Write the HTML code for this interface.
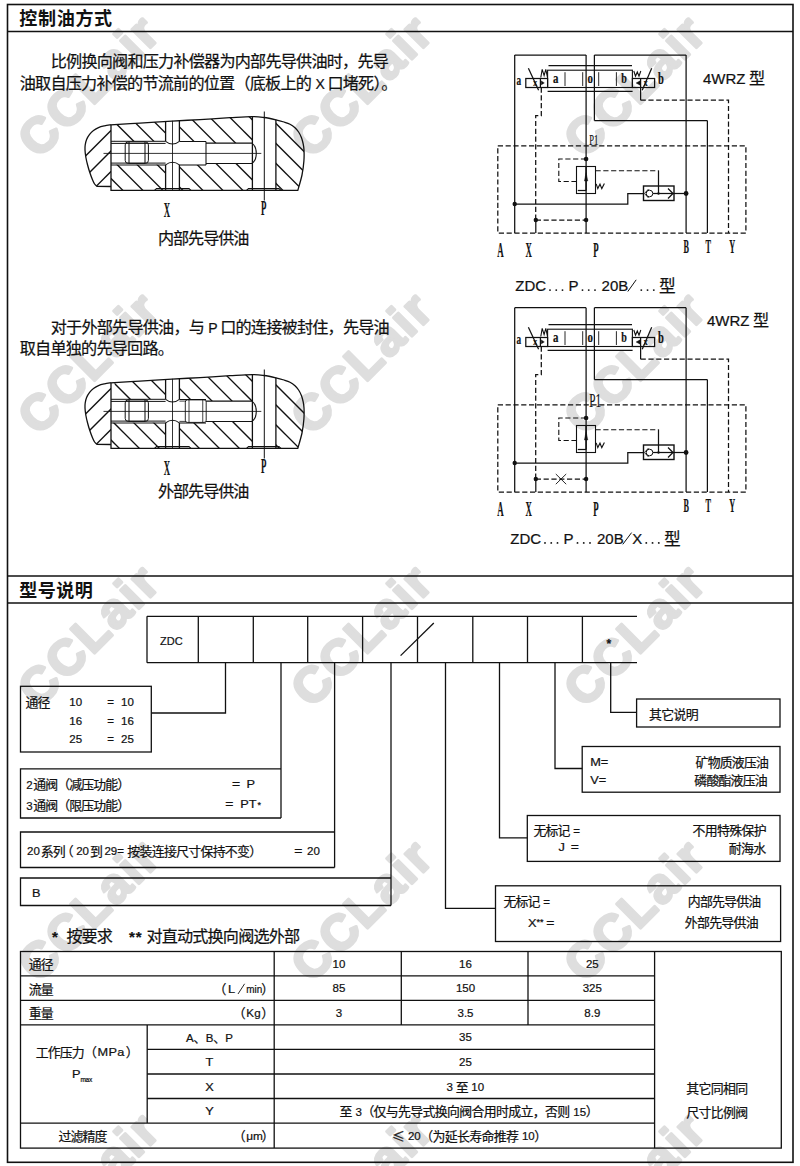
<!DOCTYPE html>
<html lang="zh"><head><meta charset="utf-8"><title>ZDC</title>
<style>
html,body{margin:0;padding:0;background:#fff;}
body{width:800px;height:1166px;overflow:hidden;font-family:"Liberation Sans",sans-serif;}
svg{display:block;}
text{stroke:#111;stroke-width:0.22px;}
.cj{font-family:"Liberation Sans","Noto Sans CJK SC",sans-serif;fill:#111;}
.cjb{font-family:"Liberation Sans","Noto Sans CJK SC",sans-serif;fill:#111;font-weight:bold;stroke:none;}
</style></head><body>
<svg width="800" height="1166" viewBox="0 0 800 1166">
<text transform="translate(88.5 85) rotate(-45)" text-anchor="middle" y="17.5" font-size="49.5" font-weight="bold" letter-spacing="2.4" font-family="Liberation Sans, sans-serif" fill="#dedede" style="stroke:#dedede;stroke-width:2.8px;stroke-linejoin:round">CCLair</text><text transform="translate(361.5 85) rotate(-45)" text-anchor="middle" y="17.5" font-size="49.5" font-weight="bold" letter-spacing="2.4" font-family="Liberation Sans, sans-serif" fill="#dedede" style="stroke:#dedede;stroke-width:2.8px;stroke-linejoin:round">CCLair</text><text transform="translate(634.5 85) rotate(-45)" text-anchor="middle" y="17.5" font-size="49.5" font-weight="bold" letter-spacing="2.4" font-family="Liberation Sans, sans-serif" fill="#dedede" style="stroke:#dedede;stroke-width:2.8px;stroke-linejoin:round">CCLair</text><text transform="translate(88.5 362) rotate(-45)" text-anchor="middle" y="17.5" font-size="49.5" font-weight="bold" letter-spacing="2.4" font-family="Liberation Sans, sans-serif" fill="#dedede" style="stroke:#dedede;stroke-width:2.8px;stroke-linejoin:round">CCLair</text><text transform="translate(361.5 362) rotate(-45)" text-anchor="middle" y="17.5" font-size="49.5" font-weight="bold" letter-spacing="2.4" font-family="Liberation Sans, sans-serif" fill="#dedede" style="stroke:#dedede;stroke-width:2.8px;stroke-linejoin:round">CCLair</text><text transform="translate(634.5 362) rotate(-45)" text-anchor="middle" y="17.5" font-size="49.5" font-weight="bold" letter-spacing="2.4" font-family="Liberation Sans, sans-serif" fill="#dedede" style="stroke:#dedede;stroke-width:2.8px;stroke-linejoin:round">CCLair</text><text transform="translate(88.5 634.5) rotate(-45)" text-anchor="middle" y="17.5" font-size="49.5" font-weight="bold" letter-spacing="2.4" font-family="Liberation Sans, sans-serif" fill="#dedede" style="stroke:#dedede;stroke-width:2.8px;stroke-linejoin:round">CCLair</text><text transform="translate(361.5 634.5) rotate(-45)" text-anchor="middle" y="17.5" font-size="49.5" font-weight="bold" letter-spacing="2.4" font-family="Liberation Sans, sans-serif" fill="#dedede" style="stroke:#dedede;stroke-width:2.8px;stroke-linejoin:round">CCLair</text><text transform="translate(634.5 634.5) rotate(-45)" text-anchor="middle" y="17.5" font-size="49.5" font-weight="bold" letter-spacing="2.4" font-family="Liberation Sans, sans-serif" fill="#dedede" style="stroke:#dedede;stroke-width:2.8px;stroke-linejoin:round">CCLair</text><text transform="translate(88.5 909.5) rotate(-45)" text-anchor="middle" y="17.5" font-size="49.5" font-weight="bold" letter-spacing="2.4" font-family="Liberation Sans, sans-serif" fill="#dedede" style="stroke:#dedede;stroke-width:2.8px;stroke-linejoin:round">CCLair</text><text transform="translate(361.5 909.5) rotate(-45)" text-anchor="middle" y="17.5" font-size="49.5" font-weight="bold" letter-spacing="2.4" font-family="Liberation Sans, sans-serif" fill="#dedede" style="stroke:#dedede;stroke-width:2.8px;stroke-linejoin:round">CCLair</text><text transform="translate(634.5 909.5) rotate(-45)" text-anchor="middle" y="17.5" font-size="49.5" font-weight="bold" letter-spacing="2.4" font-family="Liberation Sans, sans-serif" fill="#dedede" style="stroke:#dedede;stroke-width:2.8px;stroke-linejoin:round">CCLair</text><text transform="translate(88.5 1182.5) rotate(-45)" text-anchor="middle" y="17.5" font-size="49.5" font-weight="bold" letter-spacing="2.4" font-family="Liberation Sans, sans-serif" fill="#dedede" style="stroke:#dedede;stroke-width:2.8px;stroke-linejoin:round">CCLair</text><text transform="translate(361.5 1182.5) rotate(-45)" text-anchor="middle" y="17.5" font-size="49.5" font-weight="bold" letter-spacing="2.4" font-family="Liberation Sans, sans-serif" fill="#dedede" style="stroke:#dedede;stroke-width:2.8px;stroke-linejoin:round">CCLair</text><text transform="translate(634.5 1182.5) rotate(-45)" text-anchor="middle" y="17.5" font-size="49.5" font-weight="bold" letter-spacing="2.4" font-family="Liberation Sans, sans-serif" fill="#dedede" style="stroke:#dedede;stroke-width:2.8px;stroke-linejoin:round">CCLair</text><rect x="7.5" y="4.5" width="785.5" height="1157.8" fill="none" stroke="#111" stroke-width="1.6"/><line x1="7.5" y1="31.5" x2="793" y2="31.5" stroke="#111" stroke-width="1.6"/><line x1="7.5" y1="576" x2="793" y2="576" stroke="#111" stroke-width="1.6"/><line x1="7.5" y1="603" x2="793" y2="603" stroke="#111" stroke-width="1.6"/><text class="cjb" x="19.37" y="24.62" font-size="18.06" letter-spacing="0.64">控制油方式</text><text class="cjb" x="19.37" y="596.52" font-size="18.06" letter-spacing="0.44">型号说明</text><text class="cj" x="50.74" y="67.17" font-size="16.13" letter-spacing="-0.775">比例换向阀和压力补偿器为内部先导供油时，先导</text><text class="cj" x="19.74" y="88.97" font-size="16.13" letter-spacing="-0.775">油取自压力补偿的节流前的位置（底板上的</text><text class="cj" x="327.4" y="88.97" font-size="16.13" letter-spacing="-0.775">口堵死）</text><text class="cj" x="381.14" y="88.97" font-size="16.13">。</text><text x="311.95" y="88.6" font-size="14" font-family="Liberation Sans, sans-serif" letter-spacing="-0.4" fill="#111" xml:space="preserve"> X </text><text class="cj" x="50.74" y="332.88" font-size="16.13" letter-spacing="-0.775">对于外部先导供油，与</text><text class="cj" x="220.21" y="332.88" font-size="16.13" letter-spacing="-0.775">口的连接被封住，先导油</text><text x="204.8" y="332.5" font-size="14" font-family="Liberation Sans, sans-serif" letter-spacing="-0.4" fill="#111" xml:space="preserve"> P </text><text class="cj" x="19.74" y="354.38" font-size="16.13" letter-spacing="-0.775">取自单独的先导回路。</text><text class="cj" x="157.94" y="244.18" font-size="16.13" letter-spacing="-1.03">内部先导供油</text><text class="cj" x="157.94" y="496.68" font-size="16.13" letter-spacing="-1.03">外部先导供油</text><clipPath id="cb1"><path d="M111 190.4L111 124.8C115.83 124.52 129.83 123.72 140 123.1C150.17 122.48 162 121.68 172 121.1C182 120.52 190.33 120.17 200 119.6C209.67 119.03 221.33 118.2 230 117.7C238.67 117.2 246.33 116.63 252 116.6C257.67 116.57 260.02 116.97 264 117.5C267.98 118.03 272.57 119.05 275.9 119.8C279.23 120.55 281.65 121.27 284 122C286.35 122.73 288.17 123.23 290 124.2C291.83 125.17 293.57 126.5 295 127.8C296.43 129.1 297.53 130.38 298.6 132C299.67 133.62 300.65 135.58 301.4 137.5C302.15 139.42 302.67 141.42 303.1 143.5C303.53 145.58 303.87 147.08 304 150C304.13 152.92 304.23 156.83 303.9 161C303.57 165.17 303.02 170.1 302 175C300.98 179.9 298.5 187.83 297.8 190.4Z"/></clipPath><clipPath id="cr1"><rect x="114.5" y="100" width="51.1" height="41.3"/><rect x="179.4" y="100" width="26.6" height="41.5"/><rect x="206" y="100" width="46.4" height="43.1"/><rect x="111" y="164.8" width="54.6" height="26.2"/><rect x="179.4" y="165" width="26.6" height="26"/><rect x="206" y="163.5" width="46.4" height="27.5"/><rect x="275.9" y="100" width="44.1" height="91"/></clipPath><clipPath id="cc1"><path d="M111 124.8C109.92 124.98 106.58 125.43 104.5 125.9C102.42 126.37 100.33 126.82 98.5 127.6C96.67 128.38 94.98 129.47 93.5 130.6C92.02 131.73 90.75 132.92 89.6 134.4C88.45 135.88 87.33 137.73 86.6 139.5C85.87 141.27 85.47 143.25 85.2 145C84.93 146.75 84.9 148 85 150C85.1 152 85.37 154.5 85.8 157C86.23 159.5 86.93 162.42 87.6 165C88.27 167.58 88.97 170 89.8 172.5C90.63 175 91.8 178.08 92.6 180C93.4 181.92 93.87 182.95 94.6 184C95.33 185.05 96.6 185.92 97 186.3L111 186.5Z"/></clipPath><g clip-path="url(#cb1)"><g clip-path="url(#cr1)" stroke="#111" stroke-width="1.3"><line x1="17.5" y1="105" x2="107.5" y2="195"/><line x1="37.5" y1="105" x2="127.5" y2="195"/><line x1="57.5" y1="105" x2="147.5" y2="195"/><line x1="77.5" y1="105" x2="167.5" y2="195"/><line x1="97.5" y1="105" x2="187.5" y2="195"/><line x1="117.5" y1="105" x2="207.5" y2="195"/><line x1="137.5" y1="105" x2="227.5" y2="195"/><line x1="157.5" y1="105" x2="247.5" y2="195"/><line x1="177.5" y1="105" x2="267.5" y2="195"/><line x1="197.5" y1="105" x2="287.5" y2="195"/><line x1="217.5" y1="105" x2="307.5" y2="195"/><line x1="237.5" y1="105" x2="327.5" y2="195"/><line x1="257.5" y1="105" x2="347.5" y2="195"/><line x1="277.5" y1="105" x2="367.5" y2="195"/></g></g><g clip-path="url(#cc1)" stroke="#111" stroke-width="1.3"><line x1="126.5" y1="115" x2="46.5" y2="195"/><line x1="147" y1="115" x2="67" y2="195"/><line x1="167.5" y1="115" x2="87.5" y2="195"/></g><path d="M111 190.4L111 124.8C115.83 124.52 129.83 123.72 140 123.1C150.17 122.48 162 121.68 172 121.1C182 120.52 190.33 120.17 200 119.6C209.67 119.03 221.33 118.2 230 117.7C238.67 117.2 246.33 116.63 252 116.6C257.67 116.57 260.02 116.97 264 117.5C267.98 118.03 272.57 119.05 275.9 119.8C279.23 120.55 281.65 121.27 284 122C286.35 122.73 288.17 123.23 290 124.2C291.83 125.17 293.57 126.5 295 127.8C296.43 129.1 297.53 130.38 298.6 132C299.67 133.62 300.65 135.58 301.4 137.5C302.15 139.42 302.67 141.42 303.1 143.5C303.53 145.58 303.87 147.08 304 150C304.13 152.92 304.23 156.83 303.9 161C303.57 165.17 303.02 170.1 302 175C300.98 179.9 298.5 187.83 297.8 190.4Z" fill="none" stroke="#111" stroke-width="1.3"/><path d="M111 124.8C109.92 124.98 106.58 125.43 104.5 125.9C102.42 126.37 100.33 126.82 98.5 127.6C96.67 128.38 94.98 129.47 93.5 130.6C92.02 131.73 90.75 132.92 89.6 134.4C88.45 135.88 87.33 137.73 86.6 139.5C85.87 141.27 85.47 143.25 85.2 145C84.93 146.75 84.9 148 85 150C85.1 152 85.37 154.5 85.8 157C86.23 159.5 86.93 162.42 87.6 165C88.27 167.58 88.97 170 89.8 172.5C90.63 175 91.8 178.08 92.6 180C93.4 181.92 93.87 182.95 94.6 184C95.33 185.05 96.6 185.92 97 186.3L111 186.5" fill="none" stroke="#111" stroke-width="1.3"/><line x1="111" y1="141.3" x2="165.6" y2="141.3" stroke="#111" stroke-width="1"/><line x1="111" y1="143.4" x2="165.6" y2="143.4" stroke="#111" stroke-width="1"/><line x1="111" y1="163.1" x2="165.6" y2="163.1" stroke="#111" stroke-width="1"/><line x1="111" y1="165" x2="165.6" y2="165" stroke="#111" stroke-width="1"/><rect x="125.2" y="141.9" width="23.2" height="21.5" fill="none" stroke="#111" stroke-width="1" rx="3"/><line x1="129" y1="142" x2="129" y2="163.3" stroke="#111" stroke-width="1.05"/><line x1="145" y1="142" x2="145" y2="163.3" stroke="#111" stroke-width="1.05"/><line x1="165.6" y1="121.3" x2="165.6" y2="141.3" stroke="#111" stroke-width="1.3"/><line x1="179.4" y1="120.7" x2="179.4" y2="141.3" stroke="#111" stroke-width="1.3"/><line x1="165.6" y1="164.8" x2="165.6" y2="190.4" stroke="#111" stroke-width="1.3"/><line x1="179.4" y1="164.8" x2="179.4" y2="190.4" stroke="#111" stroke-width="1.3"/><path d="M165.6 141.3Q172.5 146.8 179.4 141.3" fill="none" stroke="#111" stroke-width="1.05"/><path d="M165.6 164.8Q172.5 159.6 179.4 164.8" fill="none" stroke="#111" stroke-width="1.05"/><line x1="172.5" y1="120.8" x2="172.5" y2="190.4" stroke="#111" stroke-width="0.85"/><line x1="179.4" y1="141.5" x2="206" y2="141.5" stroke="#111" stroke-width="1.05"/><line x1="179.4" y1="165" x2="206" y2="165" stroke="#111" stroke-width="1.05"/><line x1="206" y1="141.5" x2="206" y2="165" stroke="#111" stroke-width="1.05"/><path d="M206 143.1L251.9 143.1C254.5 145 256.3 149 256.3 153.4C256.3 157.8 254.5 161.6 251.9 163.5L206 163.5" fill="none" stroke="#111" stroke-width="1.05"/><line x1="252.4" y1="116.6" x2="252.4" y2="190.4" stroke="#111" stroke-width="1.3"/><line x1="275.9" y1="119.8" x2="275.9" y2="190.4" stroke="#111" stroke-width="1.3"/><line x1="103.5" y1="153.4" x2="261.3" y2="153.4" stroke="#111" stroke-width="0.85"/><line x1="264.3" y1="111.5" x2="264.3" y2="200.5" stroke="#111" stroke-width="1"/><polyline points="154.5,190.4 156.5,188.6 189,188.6 191,190.4" fill="none" stroke="#111" stroke-width="1.05"/><polyline points="246.5,190.4 248.5,188.6 279,188.6 281,190.4" fill="none" stroke="#111" stroke-width="1.05"/><text transform="translate(167 216.6) scale(0.42 1)" font-size="21" font-family="Liberation Serif, serif" text-anchor="middle" font-weight="bold" fill="#111">X</text><text transform="translate(263.8 215) scale(0.42 1)" font-size="21" font-family="Liberation Serif, serif" text-anchor="middle" font-weight="bold" fill="#111">P</text><clipPath id="cb2"><path d="M111 448.4L111 382.8C115.83 382.52 129.83 381.72 140 381.1C150.17 380.48 162 379.68 172 379.1C182 378.52 190.33 378.17 200 377.6C209.67 377.03 221.33 376.2 230 375.7C238.67 375.2 246.33 374.63 252 374.6C257.67 374.57 260.02 374.97 264 375.5C267.98 376.03 272.57 377.05 275.9 377.8C279.23 378.55 281.65 379.27 284 380C286.35 380.73 288.17 381.23 290 382.2C291.83 383.17 293.57 384.5 295 385.8C296.43 387.1 297.53 388.38 298.6 390C299.67 391.62 300.65 393.58 301.4 395.5C302.15 397.42 302.67 399.42 303.1 401.5C303.53 403.58 303.87 405.08 304 408C304.13 410.92 304.23 414.83 303.9 419C303.57 423.17 303.02 428.1 302 433C300.98 437.9 298.5 445.83 297.8 448.4Z"/></clipPath><clipPath id="cr2"><rect x="114.5" y="358" width="51.1" height="41.3"/><rect x="179.4" y="358" width="26.6" height="41.5"/><rect x="206" y="358" width="46.4" height="43.1"/><rect x="111" y="422.8" width="54.6" height="26.2"/><rect x="179.4" y="423" width="26.6" height="26"/><rect x="206" y="421.5" width="46.4" height="27.5"/><rect x="275.9" y="358" width="44.1" height="91"/></clipPath><clipPath id="cc2"><path d="M111 382.8C109.92 382.98 106.58 383.43 104.5 383.9C102.42 384.37 100.33 384.82 98.5 385.6C96.67 386.38 94.98 387.47 93.5 388.6C92.02 389.73 90.75 390.92 89.6 392.4C88.45 393.88 87.33 395.73 86.6 397.5C85.87 399.27 85.47 401.25 85.2 403C84.93 404.75 84.9 406 85 408C85.1 410 85.37 412.5 85.8 415C86.23 417.5 86.93 420.42 87.6 423C88.27 425.58 88.97 428 89.8 430.5C90.63 433 91.8 436.08 92.6 438C93.4 439.92 93.87 440.95 94.6 442C95.33 443.05 96.6 443.92 97 444.3L111 444.5Z"/></clipPath><g clip-path="url(#cb2)"><g clip-path="url(#cr2)" stroke="#111" stroke-width="1.3"><line x1="14" y1="363" x2="104" y2="453"/><line x1="34" y1="363" x2="124" y2="453"/><line x1="54" y1="363" x2="144" y2="453"/><line x1="74" y1="363" x2="164" y2="453"/><line x1="94" y1="363" x2="184" y2="453"/><line x1="114" y1="363" x2="204" y2="453"/><line x1="134" y1="363" x2="224" y2="453"/><line x1="154" y1="363" x2="244" y2="453"/><line x1="174" y1="363" x2="264" y2="453"/><line x1="194" y1="363" x2="284" y2="453"/><line x1="214" y1="363" x2="304" y2="453"/><line x1="234" y1="363" x2="324" y2="453"/><line x1="254" y1="363" x2="344" y2="453"/><line x1="274" y1="363" x2="364" y2="453"/></g></g><g clip-path="url(#cc2)" stroke="#111" stroke-width="1.3"><line x1="126.5" y1="373" x2="46.5" y2="453"/><line x1="147" y1="373" x2="67" y2="453"/><line x1="167.5" y1="373" x2="87.5" y2="453"/></g><path d="M111 448.4L111 382.8C115.83 382.52 129.83 381.72 140 381.1C150.17 380.48 162 379.68 172 379.1C182 378.52 190.33 378.17 200 377.6C209.67 377.03 221.33 376.2 230 375.7C238.67 375.2 246.33 374.63 252 374.6C257.67 374.57 260.02 374.97 264 375.5C267.98 376.03 272.57 377.05 275.9 377.8C279.23 378.55 281.65 379.27 284 380C286.35 380.73 288.17 381.23 290 382.2C291.83 383.17 293.57 384.5 295 385.8C296.43 387.1 297.53 388.38 298.6 390C299.67 391.62 300.65 393.58 301.4 395.5C302.15 397.42 302.67 399.42 303.1 401.5C303.53 403.58 303.87 405.08 304 408C304.13 410.92 304.23 414.83 303.9 419C303.57 423.17 303.02 428.1 302 433C300.98 437.9 298.5 445.83 297.8 448.4Z" fill="none" stroke="#111" stroke-width="1.3"/><path d="M111 382.8C109.92 382.98 106.58 383.43 104.5 383.9C102.42 384.37 100.33 384.82 98.5 385.6C96.67 386.38 94.98 387.47 93.5 388.6C92.02 389.73 90.75 390.92 89.6 392.4C88.45 393.88 87.33 395.73 86.6 397.5C85.87 399.27 85.47 401.25 85.2 403C84.93 404.75 84.9 406 85 408C85.1 410 85.37 412.5 85.8 415C86.23 417.5 86.93 420.42 87.6 423C88.27 425.58 88.97 428 89.8 430.5C90.63 433 91.8 436.08 92.6 438C93.4 439.92 93.87 440.95 94.6 442C95.33 443.05 96.6 443.92 97 444.3L111 444.5" fill="none" stroke="#111" stroke-width="1.3"/><line x1="111" y1="399.3" x2="165.6" y2="399.3" stroke="#111" stroke-width="1"/><line x1="111" y1="401.4" x2="165.6" y2="401.4" stroke="#111" stroke-width="1"/><line x1="111" y1="421.1" x2="165.6" y2="421.1" stroke="#111" stroke-width="1"/><line x1="111" y1="423" x2="165.6" y2="423" stroke="#111" stroke-width="1"/><rect x="125.2" y="399.9" width="23.2" height="21.5" fill="none" stroke="#111" stroke-width="1" rx="3"/><line x1="129" y1="400" x2="129" y2="421.3" stroke="#111" stroke-width="1.05"/><line x1="145" y1="400" x2="145" y2="421.3" stroke="#111" stroke-width="1.05"/><line x1="165.6" y1="379.3" x2="165.6" y2="399.3" stroke="#111" stroke-width="1.3"/><line x1="179.4" y1="378.7" x2="179.4" y2="399.3" stroke="#111" stroke-width="1.3"/><line x1="165.6" y1="422.8" x2="165.6" y2="448.4" stroke="#111" stroke-width="1.3"/><line x1="179.4" y1="422.8" x2="179.4" y2="448.4" stroke="#111" stroke-width="1.3"/><path d="M165.6 399.3Q172.5 404.8 179.4 399.3" fill="none" stroke="#111" stroke-width="1.05"/><path d="M165.6 422.8Q172.5 417.6 179.4 422.8" fill="none" stroke="#111" stroke-width="1.05"/><line x1="172.5" y1="378.8" x2="172.5" y2="448.4" stroke="#111" stroke-width="0.85"/><line x1="179.4" y1="399.5" x2="206" y2="399.5" stroke="#111" stroke-width="1.05"/><line x1="179.4" y1="423" x2="206" y2="423" stroke="#111" stroke-width="1.05"/><line x1="179.4" y1="401.1" x2="186" y2="401.1" stroke="#111" stroke-width="0.8"/><line x1="179.4" y1="421.4" x2="186" y2="421.4" stroke="#111" stroke-width="0.8"/><rect x="185.3" y="399.9" width="20.9" height="22.5" fill="none" stroke="#111" stroke-width="0.9" rx="2.2"/><line x1="189" y1="400" x2="189" y2="422.2" stroke="#111" stroke-width="0.8"/><line x1="202.75" y1="400" x2="202.75" y2="422.2" stroke="#111" stroke-width="0.8"/><path d="M206 401.1L251.9 401.1C254.5 403 256.3 407 256.3 411.4C256.3 415.8 254.5 419.6 251.9 421.5L206 421.5" fill="none" stroke="#111" stroke-width="1.05"/><line x1="252.4" y1="374.6" x2="252.4" y2="448.4" stroke="#111" stroke-width="1.3"/><line x1="275.9" y1="377.8" x2="275.9" y2="448.4" stroke="#111" stroke-width="1.3"/><line x1="103.5" y1="411.4" x2="261.3" y2="411.4" stroke="#111" stroke-width="0.85"/><line x1="264.3" y1="369.5" x2="264.3" y2="458.5" stroke="#111" stroke-width="1"/><polyline points="154.5,448.4 156.5,446.6 189,446.6 191,448.4" fill="none" stroke="#111" stroke-width="1.05"/><polyline points="246.5,448.4 248.5,446.6 279,446.6 281,448.4" fill="none" stroke="#111" stroke-width="1.05"/><text transform="translate(167 474.6) scale(0.42 1)" font-size="21" font-family="Liberation Serif, serif" text-anchor="middle" font-weight="bold" fill="#111">X</text><text transform="translate(263.8 473) scale(0.42 1)" font-size="21" font-family="Liberation Serif, serif" text-anchor="middle" font-weight="bold" fill="#111">P</text><line x1="514.7" y1="55" x2="514.7" y2="233" stroke="#111" stroke-width="1.25"/><line x1="586.1" y1="55" x2="586.1" y2="233" stroke="#111" stroke-width="1.25"/><line x1="594.4" y1="55" x2="594.4" y2="120.6" stroke="#111" stroke-width="1.25"/><line x1="686.1" y1="55" x2="686.1" y2="233" stroke="#111" stroke-width="1.25"/><line x1="707.4" y1="120.6" x2="707.4" y2="233" stroke="#111" stroke-width="1.25"/><line x1="514.7" y1="55" x2="586.1" y2="55" stroke="#111" stroke-width="1.25"/><line x1="594.4" y1="55" x2="686.1" y2="55" stroke="#111" stroke-width="1.25"/><line x1="594.4" y1="120.6" x2="707.4" y2="120.6" stroke="#111" stroke-width="1.25"/><rect x="547.6" y="70.2" width="84.8" height="17.3" fill="none" stroke="#111" stroke-width="1.1"/><line x1="548.5" y1="65.7" x2="632" y2="65.7" stroke="#111" stroke-width="1.25"/><line x1="547.6" y1="91.4" x2="632.6" y2="91.4" stroke="#111" stroke-width="1.25"/><line x1="565" y1="72.2" x2="565" y2="86" stroke="#111" stroke-width="0.9"/><line x1="582.7" y1="72.2" x2="582.7" y2="86" stroke="#111" stroke-width="0.9"/><line x1="598.7" y1="72.2" x2="598.7" y2="86" stroke="#111" stroke-width="0.9"/><line x1="616.4" y1="72.2" x2="616.4" y2="86" stroke="#111" stroke-width="0.9"/><text transform="translate(555.8 82.5) scale(0.7 1)" font-size="15.5" font-family="Liberation Serif, serif" text-anchor="middle" font-weight="bold" fill="#111">a</text><text transform="translate(590.2 82.5) scale(0.7 1)" font-size="15.5" font-family="Liberation Serif, serif" text-anchor="middle" font-weight="bold" fill="#111">o</text><text transform="translate(624 82.5) scale(0.65 1)" font-size="15.5" font-family="Liberation Serif, serif" text-anchor="middle" font-weight="bold" fill="#111">b</text><rect x="525.8" y="78.5" width="21.8" height="9" fill="none" stroke="#111" stroke-width="1.25"/><line x1="540.4" y1="78.5" x2="540.4" y2="87.5" stroke="#111" stroke-width="1.25"/><line x1="528.4" y1="68.2" x2="538.6" y2="90.2" stroke="#111" stroke-width="1.25"/><text transform="translate(535.2 85.8) scale(0.8 1)" font-size="9.5" font-family="Liberation Serif, serif" text-anchor="middle" font-weight="bold" fill="#111">x</text><polygon points="541.2,80.8 544.4,82.9 541.2,85" fill="#111" stroke="#111" stroke-width="0.3"/><polyline points="540.8,77.5 542.2,69.4 544.1,75.6 545.8,69.4 547.5,77.5" fill="none" stroke="#111" stroke-width="1.1"/><text transform="translate(518.7 84.8) scale(0.66 1)" font-size="14" font-family="Liberation Serif, serif" text-anchor="middle" font-weight="bold" fill="#111">a</text><rect x="632.4" y="78.5" width="22.2" height="9" fill="none" stroke="#111" stroke-width="1.25"/><line x1="640.6" y1="78.5" x2="640.6" y2="100.2" stroke="#111" stroke-width="1.25"/><line x1="651.7" y1="68.2" x2="642.2" y2="90.2" stroke="#111" stroke-width="1.25"/><text transform="translate(645.6 85.8) scale(0.8 1)" font-size="9.5" font-family="Liberation Serif, serif" text-anchor="middle" font-weight="bold" fill="#111">x</text><polygon points="640,80.8 636,83 640,85.2" fill="#111" stroke="#111" stroke-width="0.3"/><polyline points="633.8,71 635.5,76.2 637.3,72 639,76.2 640.8,71" fill="none" stroke="#111" stroke-width="1.1"/><text transform="translate(660.9 84) scale(0.6 1)" font-size="17.5" font-family="Liberation Serif, serif" text-anchor="middle" font-weight="bold" fill="#111">b</text><polyline points="541.3,87.5 541.3,115.7 535.7,115.7 535.7,220" fill="none" stroke="#111" stroke-width="1.25" stroke-dasharray="5.2 2.6"/><line x1="535.8" y1="220" x2="535.8" y2="233" stroke="#111" stroke-width="1.25"/><polyline points="640.6,100.2 728.5,100.2 728.5,233" fill="none" stroke="#111" stroke-width="1.25" stroke-dasharray="5.2 2.6"/><rect x="497.8" y="145.8" width="248.1" height="87.2" fill="none" stroke="#111" stroke-width="1.25" stroke-dasharray="5.2 2.6"/><polyline points="514.7,204 627.8,204 627.8,193.5 643.5,193.5" fill="none" stroke="#111" stroke-width="1.25"/><circle cx="514.7" cy="204" r="2.2" fill="#111"/><line x1="535.8" y1="220" x2="586.1" y2="220" stroke="#111" stroke-width="1.25" stroke-dasharray="5.2 2.6"/><circle cx="535.8" cy="220" r="2.2" fill="#111"/><circle cx="586.1" cy="220" r="2.2" fill="#111"/><circle cx="586.1" cy="159" r="2.3" fill="#111"/><polyline points="586.1,159 558.8,159 558.8,181.5 576.5,181.5" fill="none" stroke="#111" stroke-width="1.1" stroke-dasharray="5.2 2.6"/><rect x="576.5" y="166.5" width="19" height="27" fill="none" stroke="#111" stroke-width="1.1"/><polygon points="586.1,172.5 584.4,181 587.8,181" fill="#111" stroke="#111" stroke-width="0.4"/><line x1="586.1" y1="166.5" x2="586.1" y2="190.5" stroke="#111" stroke-width="1.4"/><line x1="577.8" y1="190.5" x2="586.1" y2="190.5" stroke="#111" stroke-width="1.25"/><polyline points="596.2,183.8 597.8,188.6 600,184.2 601.8,188.6 604.4,183.6" fill="none" stroke="#111" stroke-width="1.1"/><line x1="595.5" y1="170.8" x2="658.5" y2="170.8" stroke="#111" stroke-width="1.1" stroke-dasharray="5.2 2.6"/><line x1="658.5" y1="170.5" x2="658.5" y2="193.5" stroke="#111" stroke-width="1.25"/><circle cx="658.5" cy="193.5" r="1.2" fill="#111"/><rect x="643.5" y="186" width="30.5" height="14.5" fill="none" stroke="#111" stroke-width="1.4"/><line x1="652.8" y1="193.5" x2="674" y2="193.5" stroke="#111" stroke-width="1.25"/><circle cx="649.5" cy="193.5" r="3.3" fill="#fff" stroke="#111" stroke-width="1"/><polyline points="648.6,189 644.4,193.5 648.6,198" fill="none" stroke="#111" stroke-width="0.9"/><polyline points="668,188.5 673,193.5 668,198.5" fill="none" stroke="#111" stroke-width="1.25"/><line x1="674" y1="193.5" x2="686.1" y2="193.5" stroke="#111" stroke-width="1.25"/><circle cx="686.1" cy="193.5" r="2.4" fill="#111"/><text transform="translate(500.5 257) scale(0.42 1)" font-size="21" font-family="Liberation Serif, serif" text-anchor="middle" font-weight="bold" fill="#111">A</text><text transform="translate(528.6 257) scale(0.42 1)" font-size="21" font-family="Liberation Serif, serif" text-anchor="middle" font-weight="bold" fill="#111">X</text><text transform="translate(596 257) scale(0.42 1)" font-size="21" font-family="Liberation Serif, serif" text-anchor="middle" font-weight="bold" fill="#111">P</text><text transform="translate(686.3 253.2) scale(0.42 1)" font-size="19.5" font-family="Liberation Serif, serif" text-anchor="middle" font-weight="bold" fill="#111">B</text><text transform="translate(708.2 253.2) scale(0.42 1)" font-size="19.5" font-family="Liberation Serif, serif" text-anchor="middle" font-weight="bold" fill="#111">T</text><text transform="translate(732.3 253.2) scale(0.42 1)" font-size="19.5" font-family="Liberation Serif, serif" text-anchor="middle" font-weight="bold" fill="#111">Y</text><text transform="translate(589.2 144.6) scale(0.58 1)" font-size="14.8" font-family="Liberation Serif, serif" fill="#111">P1</text><line x1="514.7" y1="307.7" x2="514.7" y2="492" stroke="#111" stroke-width="1.25"/><line x1="586.1" y1="307.7" x2="586.1" y2="492" stroke="#111" stroke-width="1.25"/><line x1="594.4" y1="307.7" x2="594.4" y2="379.6" stroke="#111" stroke-width="1.25"/><line x1="686.1" y1="307.7" x2="686.1" y2="492" stroke="#111" stroke-width="1.25"/><line x1="707.4" y1="379.6" x2="707.4" y2="492" stroke="#111" stroke-width="1.25"/><line x1="514.7" y1="307.7" x2="586.1" y2="307.7" stroke="#111" stroke-width="1.25"/><line x1="594.4" y1="307.7" x2="686.1" y2="307.7" stroke="#111" stroke-width="1.25"/><line x1="594.4" y1="379.6" x2="707.4" y2="379.6" stroke="#111" stroke-width="1.25"/><rect x="547.6" y="329.2" width="84.8" height="17.3" fill="none" stroke="#111" stroke-width="1.1"/><line x1="548.5" y1="324.7" x2="632" y2="324.7" stroke="#111" stroke-width="1.25"/><line x1="547.6" y1="350.4" x2="632.6" y2="350.4" stroke="#111" stroke-width="1.25"/><line x1="565" y1="331.2" x2="565" y2="345" stroke="#111" stroke-width="0.9"/><line x1="582.7" y1="331.2" x2="582.7" y2="345" stroke="#111" stroke-width="0.9"/><line x1="598.7" y1="331.2" x2="598.7" y2="345" stroke="#111" stroke-width="0.9"/><line x1="616.4" y1="331.2" x2="616.4" y2="345" stroke="#111" stroke-width="0.9"/><text transform="translate(555.8 341.5) scale(0.7 1)" font-size="15.5" font-family="Liberation Serif, serif" text-anchor="middle" font-weight="bold" fill="#111">a</text><text transform="translate(590.2 341.5) scale(0.7 1)" font-size="15.5" font-family="Liberation Serif, serif" text-anchor="middle" font-weight="bold" fill="#111">o</text><text transform="translate(624 341.5) scale(0.65 1)" font-size="15.5" font-family="Liberation Serif, serif" text-anchor="middle" font-weight="bold" fill="#111">b</text><rect x="525.8" y="337.5" width="21.8" height="9" fill="none" stroke="#111" stroke-width="1.25"/><line x1="540.4" y1="337.5" x2="540.4" y2="346.5" stroke="#111" stroke-width="1.25"/><line x1="528.4" y1="327.2" x2="538.6" y2="349.2" stroke="#111" stroke-width="1.25"/><text transform="translate(535.2 344.8) scale(0.8 1)" font-size="9.5" font-family="Liberation Serif, serif" text-anchor="middle" font-weight="bold" fill="#111">x</text><polygon points="541.2,339.8 544.4,341.9 541.2,344" fill="#111" stroke="#111" stroke-width="0.3"/><polyline points="540.8,336.5 542.2,328.4 544.1,334.6 545.8,328.4 547.5,336.5" fill="none" stroke="#111" stroke-width="1.1"/><text transform="translate(518.7 343.8) scale(0.66 1)" font-size="14" font-family="Liberation Serif, serif" text-anchor="middle" font-weight="bold" fill="#111">a</text><rect x="632.4" y="337.5" width="22.2" height="9" fill="none" stroke="#111" stroke-width="1.25"/><line x1="640.6" y1="337.5" x2="640.6" y2="359.2" stroke="#111" stroke-width="1.25"/><line x1="651.7" y1="327.2" x2="642.2" y2="349.2" stroke="#111" stroke-width="1.25"/><text transform="translate(645.6 344.8) scale(0.8 1)" font-size="9.5" font-family="Liberation Serif, serif" text-anchor="middle" font-weight="bold" fill="#111">x</text><polygon points="640,339.8 636,342 640,344.2" fill="#111" stroke="#111" stroke-width="0.3"/><polyline points="633.8,330 635.5,335.2 637.3,331 639,335.2 640.8,330" fill="none" stroke="#111" stroke-width="1.1"/><text transform="translate(660.9 343) scale(0.6 1)" font-size="17.5" font-family="Liberation Serif, serif" text-anchor="middle" font-weight="bold" fill="#111">b</text><polyline points="541.3,346.5 541.3,374.7 535.7,374.7 535.7,479" fill="none" stroke="#111" stroke-width="1.25" stroke-dasharray="5.2 2.6"/><line x1="535.8" y1="479" x2="535.8" y2="492" stroke="#111" stroke-width="1.25"/><polyline points="640.6,359.2 728.5,359.2 728.5,492" fill="none" stroke="#111" stroke-width="1.25" stroke-dasharray="5.2 2.6"/><rect x="497.8" y="404.8" width="248.1" height="87.2" fill="none" stroke="#111" stroke-width="1.25" stroke-dasharray="5.2 2.6"/><polyline points="514.7,463 627.8,463 627.8,452.5 643.5,452.5" fill="none" stroke="#111" stroke-width="1.25"/><circle cx="514.7" cy="463" r="2.2" fill="#111"/><line x1="535.8" y1="479" x2="586.1" y2="479" stroke="#111" stroke-width="1.25" stroke-dasharray="5.2 2.6"/><circle cx="535.8" cy="479" r="2.2" fill="#111"/><circle cx="586.1" cy="479" r="2.2" fill="#111"/><line x1="555.8" y1="474" x2="566.2" y2="484.2" stroke="#111" stroke-width="0.9"/><line x1="555.8" y1="484.2" x2="566.2" y2="474" stroke="#111" stroke-width="0.9"/><circle cx="586.1" cy="418" r="2.3" fill="#111"/><polyline points="586.1,418 558.8,418 558.8,440.5 576.5,440.5" fill="none" stroke="#111" stroke-width="1.1" stroke-dasharray="5.2 2.6"/><rect x="576.5" y="425.5" width="19" height="27" fill="none" stroke="#111" stroke-width="1.1"/><polygon points="586.1,431.5 584.4,440 587.8,440" fill="#111" stroke="#111" stroke-width="0.4"/><line x1="586.1" y1="425.5" x2="586.1" y2="449.5" stroke="#111" stroke-width="1.4"/><line x1="577.8" y1="449.5" x2="586.1" y2="449.5" stroke="#111" stroke-width="1.25"/><polyline points="596.2,442.8 597.8,447.6 600,443.2 601.8,447.6 604.4,442.6" fill="none" stroke="#111" stroke-width="1.1"/><line x1="595.5" y1="429.8" x2="658.5" y2="429.8" stroke="#111" stroke-width="1.1" stroke-dasharray="5.2 2.6"/><line x1="658.5" y1="429.5" x2="658.5" y2="452.5" stroke="#111" stroke-width="1.25"/><circle cx="658.5" cy="452.5" r="1.2" fill="#111"/><rect x="643.5" y="445" width="30.5" height="14.5" fill="none" stroke="#111" stroke-width="1.4"/><line x1="652.8" y1="452.5" x2="674" y2="452.5" stroke="#111" stroke-width="1.25"/><circle cx="649.5" cy="452.5" r="3.3" fill="#fff" stroke="#111" stroke-width="1"/><polyline points="648.6,448 644.4,452.5 648.6,457" fill="none" stroke="#111" stroke-width="0.9"/><polyline points="668,447.5 673,452.5 668,457.5" fill="none" stroke="#111" stroke-width="1.25"/><line x1="674" y1="452.5" x2="686.1" y2="452.5" stroke="#111" stroke-width="1.25"/><circle cx="686.1" cy="452.5" r="2.4" fill="#111"/><text transform="translate(500.5 516) scale(0.42 1)" font-size="21" font-family="Liberation Serif, serif" text-anchor="middle" font-weight="bold" fill="#111">A</text><text transform="translate(528.6 516) scale(0.42 1)" font-size="21" font-family="Liberation Serif, serif" text-anchor="middle" font-weight="bold" fill="#111">X</text><text transform="translate(596 516) scale(0.42 1)" font-size="21" font-family="Liberation Serif, serif" text-anchor="middle" font-weight="bold" fill="#111">P</text><text transform="translate(686.3 512.2) scale(0.42 1)" font-size="19.5" font-family="Liberation Serif, serif" text-anchor="middle" font-weight="bold" fill="#111">B</text><text transform="translate(708.2 512.2) scale(0.42 1)" font-size="19.5" font-family="Liberation Serif, serif" text-anchor="middle" font-weight="bold" fill="#111">T</text><text transform="translate(732.3 512.2) scale(0.42 1)" font-size="19.5" font-family="Liberation Serif, serif" text-anchor="middle" font-weight="bold" fill="#111">Y</text><text transform="translate(589.2 407) scale(0.6 1)" font-size="18.7" font-family="Liberation Serif, serif" fill="#111">P1</text><text class="cj" x="749.12" y="84.08" font-size="16.13">型</text><text x="703" y="83.7" font-size="15" font-family="Liberation Sans, sans-serif" fill="#111" xml:space="preserve">4WRZ </text><text class="cj" x="753.02" y="325.98" font-size="16.13">型</text><text x="706.9" y="325.6" font-size="15" font-family="Liberation Sans, sans-serif" fill="#111" xml:space="preserve">4WRZ </text><text x="515.3" y="291" font-size="15" font-family="Liberation Sans, sans-serif" fill="#111" xml:space="preserve">ZDC</text><circle cx="550" cy="290.1" r="0.95" fill="#111"/><circle cx="556.25" cy="290.1" r="0.95" fill="#111"/><circle cx="562.5" cy="290.1" r="0.95" fill="#111"/><text x="568.6" y="291" font-size="15" font-family="Liberation Sans, sans-serif" fill="#111" xml:space="preserve">P</text><circle cx="582.5" cy="290.1" r="0.95" fill="#111"/><circle cx="588.75" cy="290.1" r="0.95" fill="#111"/><circle cx="595" cy="290.1" r="0.95" fill="#111"/><text x="601.6" y="291" font-size="15" font-family="Liberation Sans, sans-serif" fill="#111" xml:space="preserve">20B</text><line x1="627.8" y1="291.5" x2="636.2" y2="279.8" stroke="#111" stroke-width="1"/><circle cx="641.3" cy="290.1" r="0.95" fill="#111"/><circle cx="647.55" cy="290.1" r="0.95" fill="#111"/><circle cx="653.8" cy="290.1" r="0.95" fill="#111"/><text class="cj" x="658.92" y="291.99" font-size="16.66">型</text><text x="510.3" y="543.8" font-size="15" font-family="Liberation Sans, sans-serif" fill="#111" xml:space="preserve">ZDC</text><circle cx="545" cy="542.9" r="0.95" fill="#111"/><circle cx="551.25" cy="542.9" r="0.95" fill="#111"/><circle cx="557.5" cy="542.9" r="0.95" fill="#111"/><text x="563.6" y="543.8" font-size="15" font-family="Liberation Sans, sans-serif" fill="#111" xml:space="preserve">P</text><circle cx="577.5" cy="542.9" r="0.95" fill="#111"/><circle cx="583.75" cy="542.9" r="0.95" fill="#111"/><circle cx="590" cy="542.9" r="0.95" fill="#111"/><text x="597" y="543.8" font-size="15" font-family="Liberation Sans, sans-serif" fill="#111" xml:space="preserve">20B</text><line x1="622.8" y1="544.3" x2="631.6" y2="532.6" stroke="#111" stroke-width="1"/><text x="632.2" y="543.8" font-size="15" font-family="Liberation Sans, sans-serif" fill="#111" xml:space="preserve">X</text><circle cx="646.3" cy="542.9" r="0.95" fill="#111"/><circle cx="652.55" cy="542.9" r="0.95" fill="#111"/><circle cx="658.8" cy="542.9" r="0.95" fill="#111"/><text class="cj" x="663.92" y="544.79" font-size="16.66">型</text><line x1="147" y1="616.3" x2="637" y2="616.3" stroke="#111" stroke-width="1.3"/><line x1="147" y1="662.7" x2="637" y2="662.7" stroke="#111" stroke-width="1.3"/><line x1="147" y1="616.3" x2="147" y2="662.7" stroke="#111" stroke-width="1.3"/><line x1="198.3" y1="616.3" x2="198.3" y2="662.7" stroke="#111" stroke-width="1.3"/><line x1="253.3" y1="616.3" x2="253.3" y2="662.7" stroke="#111" stroke-width="1.3"/><line x1="307.7" y1="616.3" x2="307.7" y2="662.7" stroke="#111" stroke-width="1.3"/><line x1="362.6" y1="616.3" x2="362.6" y2="662.7" stroke="#111" stroke-width="1.3"/><line x1="417.5" y1="616.3" x2="417.5" y2="662.7" stroke="#111" stroke-width="1.3"/><line x1="472.8" y1="616.3" x2="472.8" y2="662.7" stroke="#111" stroke-width="1.3"/><line x1="527.5" y1="616.3" x2="527.5" y2="662.7" stroke="#111" stroke-width="1.3"/><line x1="582.4" y1="616.3" x2="582.4" y2="662.7" stroke="#111" stroke-width="1.3"/><text x="160" y="645" font-size="11" font-family="Liberation Sans, sans-serif" fill="#111" xml:space="preserve">ZDC</text><line x1="400.6" y1="655.6" x2="433.8" y2="623" stroke="#111" stroke-width="1.3"/><text x="606.4" y="647.6" font-size="12" font-family="Liberation Sans, sans-serif" font-weight="bold" fill="#111" xml:space="preserve">*</text><polyline points="225.5,662.7 225.5,713 151.3,713" fill="none" stroke="#111" stroke-width="1.3"/><line x1="281" y1="662.7" x2="281" y2="818" stroke="#111" stroke-width="1.3"/><line x1="334.6" y1="662.7" x2="334.6" y2="867.5" stroke="#111" stroke-width="1.3"/><line x1="391" y1="662.7" x2="391" y2="905.5" stroke="#111" stroke-width="1.3"/><polyline points="445.5,662.7 445.5,908.3 495.5,908.3" fill="none" stroke="#111" stroke-width="1.3"/><polyline points="499.5,662.7 499.5,837.8 527.3,837.8" fill="none" stroke="#111" stroke-width="1.3"/><polyline points="555,662.7 555,768.5 582.2,768.5" fill="none" stroke="#111" stroke-width="1.3"/><polyline points="610.7,662.7 610.7,712.3 636.6,712.3" fill="none" stroke="#111" stroke-width="1.3"/><rect x="20.5" y="686.3" width="130.8" height="65.7" fill="none" stroke="#111" stroke-width="1.3"/><polyline points="281,768.8 20.5,768.8 20.5,818 281,818" fill="none" stroke="#111" stroke-width="1.3"/><polyline points="334.6,832 20.5,832 20.5,867.5 334.6,867.5" fill="none" stroke="#111" stroke-width="1.3"/><polyline points="391,878 20.5,878 20.5,905.5 391,905.5" fill="none" stroke="#111" stroke-width="1.3"/><rect x="636.6" y="699" width="143.4" height="28" fill="none" stroke="#111" stroke-width="1.3"/><rect x="582.2" y="746.5" width="197.8" height="45.7" fill="none" stroke="#111" stroke-width="1.3"/><rect x="527.3" y="815.5" width="252.7" height="45.9" fill="none" stroke="#111" stroke-width="1.3"/><rect x="495.5" y="885.8" width="285.1" height="55.7" fill="none" stroke="#111" stroke-width="1.3"/><text class="cj" x="25.55" y="706.9" font-size="12.9" letter-spacing="-0.9">通径</text><text x="69.3" y="706" font-size="11.5" font-family="Liberation Sans, sans-serif" fill="#111" xml:space="preserve">10</text><text x="107.3" y="706" font-size="11.5" font-family="Liberation Sans, sans-serif" fill="#111" xml:space="preserve">=</text><text x="121" y="706" font-size="11.5" font-family="Liberation Sans, sans-serif" fill="#111" xml:space="preserve">10</text><text x="69.3" y="724.6" font-size="11.5" font-family="Liberation Sans, sans-serif" fill="#111" xml:space="preserve">16</text><text x="107.3" y="724.6" font-size="11.5" font-family="Liberation Sans, sans-serif" fill="#111" xml:space="preserve">=</text><text x="121" y="724.6" font-size="11.5" font-family="Liberation Sans, sans-serif" fill="#111" xml:space="preserve">16</text><text x="69.3" y="743.2" font-size="11.5" font-family="Liberation Sans, sans-serif" fill="#111" xml:space="preserve">25</text><text x="107.3" y="743.2" font-size="11.5" font-family="Liberation Sans, sans-serif" fill="#111" xml:space="preserve">=</text><text x="121" y="743.2" font-size="11.5" font-family="Liberation Sans, sans-serif" fill="#111" xml:space="preserve">25</text><text x="26.3" y="788.6" font-size="11.5" font-family="Liberation Sans, sans-serif" fill="#111" xml:space="preserve">2</text><text class="cj" x="33.25" y="789.3" font-size="12.9" letter-spacing="-0.9">通阀（减压功能）</text><text transform="translate(231.9 787.7) scale(1.2 1)" font-size="11.6" font-family="Liberation Sans, sans-serif" fill="#111" xml:space="preserve">=</text><text transform="translate(246.6 787.7) scale(1.1 1)" font-size="11.6" font-family="Liberation Sans, sans-serif" fill="#111" xml:space="preserve">P</text><text x="26.3" y="809.6" font-size="11.5" font-family="Liberation Sans, sans-serif" fill="#111" xml:space="preserve">3</text><text class="cj" x="33.25" y="810.3" font-size="12.9" letter-spacing="-0.9">通阀（限压功能）</text><text transform="translate(225.2 808.2) scale(1.2 1)" font-size="11.6" font-family="Liberation Sans, sans-serif" fill="#111" xml:space="preserve">=</text><text transform="translate(240.2 808.2) scale(1.1 1)" font-size="11.6" font-family="Liberation Sans, sans-serif" fill="#111" xml:space="preserve">PT</text><text x="257.4" y="807.6" font-size="9" font-family="Liberation Sans, sans-serif" fill="#111" xml:space="preserve">*</text><text x="27" y="855.2" font-size="11.5" font-family="Liberation Sans, sans-serif" fill="#111" xml:space="preserve">20</text><text class="cj" x="40.65" y="855.9" font-size="12.9" letter-spacing="-0.8">系列</text><text class="cj" x="60.71" y="855.9" font-size="12.9">（</text><text x="76.2" y="855.2" font-size="11.5" font-family="Liberation Sans, sans-serif" fill="#111" xml:space="preserve">20</text><text class="cj" x="89.95" y="855.9" font-size="12.9">到</text><text x="104.4" y="855.2" font-size="11.5" font-family="Liberation Sans, sans-serif" fill="#111" xml:space="preserve">29=</text><text class="cj" x="127.35" y="855.9" font-size="12.9" letter-spacing="-0.7">按装连接尺寸保持不变）</text><text transform="translate(294.2 854.6) scale(1.2 1)" font-size="11.6" font-family="Liberation Sans, sans-serif" fill="#111" xml:space="preserve">=</text><text x="307" y="854.6" font-size="11.5" font-family="Liberation Sans, sans-serif" fill="#111" xml:space="preserve">20</text><text transform="translate(32 897) scale(1.1 1)" font-size="11.6" font-family="Liberation Sans, sans-serif" fill="#111" xml:space="preserve">B</text><text x="52.1" y="942.2" font-size="15" font-family="Liberation Sans, sans-serif" font-weight="bold" fill="#111" xml:space="preserve">*</text><text class="cj" x="66.44" y="941.88" font-size="16.13" letter-spacing="-0.925">按要求</text><text x="128.9" y="942.2" font-size="15" font-family="Liberation Sans, sans-serif" font-weight="bold" letter-spacing="1" fill="#111" xml:space="preserve">**</text><text class="cj" x="146.44" y="941.88" font-size="16.13" letter-spacing="-0.825">对直动式换向阀选外部</text><text class="cj" x="649.05" y="719.1" font-size="12.9" letter-spacing="-0.65">其它说明</text><text transform="translate(590.2 765.6) scale(1.1 1)" font-size="11.6" font-family="Liberation Sans, sans-serif" fill="#111" xml:space="preserve">M=</text><text class="cj" x="695.55" y="766.5" font-size="12.9" letter-spacing="-0.8">矿物质液压油</text><text transform="translate(590.2 783.8) scale(1.1 1)" font-size="11.6" font-family="Liberation Sans, sans-serif" fill="#111" xml:space="preserve">V=</text><text class="cj" x="694.35" y="784.7" font-size="12.9" letter-spacing="-0.8">磷酸酯液压油</text><text class="cj" x="533.55" y="834.9" font-size="12.9" letter-spacing="-0.9">无标记</text><text x="570" y="834.6" font-size="11.5" font-family="Liberation Sans, sans-serif" fill="#111" xml:space="preserve"> =</text><text class="cj" x="692.55" y="834.9" font-size="12.9" letter-spacing="-0.65">不用特殊保护</text><text transform="translate(558.4 851.3) scale(1.1 1)" font-size="11.6" font-family="Liberation Sans, sans-serif" fill="#111" xml:space="preserve">J</text><text transform="translate(570.8 851.3) scale(1.2 1)" font-size="11.6" font-family="Liberation Sans, sans-serif" fill="#111" xml:space="preserve">=</text><text class="cj" x="728.85" y="852.7" font-size="12.9" letter-spacing="-0.7">耐海水</text><text class="cj" x="503.55" y="905.9" font-size="12.9" letter-spacing="-0.9">无标记</text><text x="540" y="905.6" font-size="11.5" font-family="Liberation Sans, sans-serif" fill="#111" xml:space="preserve"> =</text><text class="cj" x="687.85" y="905.9" font-size="12.9" letter-spacing="-0.8">内部先导供油</text><text transform="translate(528 927) scale(1.1 1)" font-size="11.6" font-family="Liberation Sans, sans-serif" fill="#111" xml:space="preserve">X</text><text x="536.6" y="924.6" font-size="9" font-family="Liberation Sans, sans-serif" fill="#111" xml:space="preserve">**</text><text transform="translate(546.2 927) scale(1.2 1)" font-size="11.6" font-family="Liberation Sans, sans-serif" fill="#111" xml:space="preserve">=</text><text class="cj" x="684.75" y="927.1" font-size="12.9" letter-spacing="-0.7">外部先导供油</text><rect x="20.5" y="951.5" width="760.8" height="196.6" fill="none" stroke="#111" stroke-width="1.3"/><line x1="20.5" y1="975.9" x2="654.6" y2="975.9" stroke="#111" stroke-width="1.3"/><line x1="20.5" y1="1000.4" x2="654.6" y2="1000.4" stroke="#111" stroke-width="1.3"/><line x1="20.5" y1="1024.9" x2="654.6" y2="1024.9" stroke="#111" stroke-width="1.3"/><line x1="20.5" y1="1123.1" x2="654.6" y2="1123.1" stroke="#111" stroke-width="1.3"/><line x1="147.2" y1="1049.4" x2="654.6" y2="1049.4" stroke="#111" stroke-width="1.3"/><line x1="147.2" y1="1074" x2="654.6" y2="1074" stroke="#111" stroke-width="1.3"/><line x1="147.2" y1="1098.5" x2="654.6" y2="1098.5" stroke="#111" stroke-width="1.3"/><line x1="274.2" y1="951.5" x2="274.2" y2="1148.1" stroke="#111" stroke-width="1.3"/><line x1="654.6" y1="951.5" x2="654.6" y2="1148.1" stroke="#111" stroke-width="1.3"/><line x1="401.3" y1="951.5" x2="401.3" y2="1024.9" stroke="#111" stroke-width="1.3"/><line x1="528" y1="951.5" x2="528" y2="1024.9" stroke="#111" stroke-width="1.3"/><line x1="147.2" y1="1024.9" x2="147.2" y2="1123.1" stroke="#111" stroke-width="1.3"/><text class="cj" x="28.85" y="969.1" font-size="12.9" letter-spacing="-0.9">通径</text><text class="cj" x="28.85" y="993.5" font-size="12.9" letter-spacing="-0.9">流量</text><text class="cj" x="28.85" y="1018" font-size="12.9" letter-spacing="-0.9">重量</text><text class="cj" x="213.41" y="993.5" font-size="12.9">（</text><text transform="translate(228 992.6) scale(1.1 1)" font-size="11.6" font-family="Liberation Sans, sans-serif" fill="#111" xml:space="preserve">L</text><line x1="238" y1="994" x2="244.6" y2="983.8" stroke="#111" stroke-width="0.9"/><text transform="translate(246.2 992.6) scale(0.92 1)" font-size="10.8" font-family="Liberation Sans, sans-serif" fill="#111" xml:space="preserve">min</text><text class="cj" x="261.29" y="993.5" font-size="12.9">）</text><text class="cj" x="232.71" y="1018" font-size="12.9">（</text><text transform="translate(246.2 1017.1) scale(1 1)" font-size="11.6" font-family="Liberation Sans, sans-serif" letter-spacing="0.4" fill="#111" xml:space="preserve">Kg</text><text class="cj" x="261.29" y="1018" font-size="12.9">）</text><text class="cj" x="232.71" y="1140.7" font-size="12.9">（</text><text transform="translate(246.3 1139.8) scale(1.02 1)" font-size="11.6" font-family="Liberation Sans, sans-serif" fill="#111" xml:space="preserve">μm</text><text class="cj" x="261.59" y="1140.7" font-size="12.9">）</text><text x="339" y="968" font-size="11.5" font-family="Liberation Sans, sans-serif" text-anchor="middle" fill="#111" xml:space="preserve">10</text><text x="465.5" y="968" font-size="11.5" font-family="Liberation Sans, sans-serif" text-anchor="middle" fill="#111" xml:space="preserve">16</text><text x="592.3" y="968" font-size="11.5" font-family="Liberation Sans, sans-serif" text-anchor="middle" fill="#111" xml:space="preserve">25</text><text x="339" y="992.4" font-size="11.5" font-family="Liberation Sans, sans-serif" text-anchor="middle" fill="#111" xml:space="preserve">85</text><text x="465.5" y="992.4" font-size="11.5" font-family="Liberation Sans, sans-serif" text-anchor="middle" fill="#111" xml:space="preserve">150</text><text x="592.3" y="992.4" font-size="11.5" font-family="Liberation Sans, sans-serif" text-anchor="middle" fill="#111" xml:space="preserve">325</text><text x="339" y="1016.9" font-size="11.5" font-family="Liberation Sans, sans-serif" text-anchor="middle" fill="#111" xml:space="preserve">3</text><text x="465.5" y="1016.9" font-size="11.5" font-family="Liberation Sans, sans-serif" text-anchor="middle" fill="#111" xml:space="preserve">3.5</text><text x="592.3" y="1016.9" font-size="11.5" font-family="Liberation Sans, sans-serif" text-anchor="middle" fill="#111" xml:space="preserve">8.9</text><text class="cj" x="35.85" y="1056.9" font-size="12.9" letter-spacing="-0.9">工作压力</text><text class="cj" x="84.11" y="1056.9" font-size="12.9">（</text><text transform="translate(97.6 1056) scale(1.1 1)" font-size="11.6" font-family="Liberation Sans, sans-serif" letter-spacing="0.25" fill="#111" xml:space="preserve">MPa</text><text class="cj" x="125.69" y="1056.9" font-size="12.9">）</text><text transform="translate(72 1078.3) scale(1.1 1)" font-size="11.6" font-family="Liberation Sans, sans-serif" fill="#111" xml:space="preserve">P</text><text x="80.4" y="1082" font-size="6.5" font-family="Liberation Sans, sans-serif" letter-spacing="-0.2" fill="#111" xml:space="preserve">max</text><text class="cj" x="193.21" y="1042.3" font-size="12.9">、</text><text class="cj" x="212.88" y="1042.3" font-size="12.9">、</text><text x="185.99" y="1042" font-size="11.5" font-family="Liberation Sans, sans-serif" fill="#111" xml:space="preserve">A</text><text x="205.66" y="1042" font-size="11.5" font-family="Liberation Sans, sans-serif" fill="#111" xml:space="preserve">B</text><text x="225.34" y="1042" font-size="11.5" font-family="Liberation Sans, sans-serif" fill="#111" xml:space="preserve">P</text><text transform="translate(209.5 1066.1) scale(1.1 1)" font-size="11.6" font-family="Liberation Sans, sans-serif" text-anchor="middle" fill="#111" xml:space="preserve">T</text><text transform="translate(209.5 1090.7) scale(1.1 1)" font-size="11.6" font-family="Liberation Sans, sans-serif" text-anchor="middle" fill="#111" xml:space="preserve">X</text><text transform="translate(209.5 1115.2) scale(1.1 1)" font-size="11.6" font-family="Liberation Sans, sans-serif" text-anchor="middle" fill="#111" xml:space="preserve">Y</text><text x="465.5" y="1041.4" font-size="11.5" font-family="Liberation Sans, sans-serif" text-anchor="middle" fill="#111" xml:space="preserve">35</text><text x="465.5" y="1065.9" font-size="11.5" font-family="Liberation Sans, sans-serif" text-anchor="middle" fill="#111" xml:space="preserve">25</text><text class="cj" x="455.65" y="1091.6" font-size="12.9">至</text><text x="446.51" y="1091.3" font-size="11.5" font-family="Liberation Sans, sans-serif" fill="#111" xml:space="preserve">3 </text><text x="468.1" y="1091.3" font-size="11.5" font-family="Liberation Sans, sans-serif" fill="#111" xml:space="preserve"> 10</text><text class="cj" x="339.55" y="1116.1" font-size="12.9">至</text><text class="cj" x="361.39" y="1116.1" font-size="12.9" letter-spacing="-0.65">（仅与先导式换向阀合用时成立，否则</text><text class="cj" x="585.63" y="1116.1" font-size="12.9">）</text><text x="352.25" y="1115.8" font-size="11.5" font-family="Liberation Sans, sans-serif" fill="#111" xml:space="preserve"> 3</text><text x="570.09" y="1115.8" font-size="11.5" font-family="Liberation Sans, sans-serif" fill="#111" xml:space="preserve"> 15</text><text x="392.05" y="1140.7" font-size="12.9" font-family="Noto Sans CJK SC, Liberation Sans, sans-serif" fill="#111">≤</text><text class="cj" x="420.29" y="1140.7" font-size="12.9" letter-spacing="-0.65">（为延长寿命推荐</text><text class="cj" x="534.27" y="1140.7" font-size="12.9">）</text><text x="404.75" y="1140.4" font-size="11.5" font-family="Liberation Sans, sans-serif" fill="#111" xml:space="preserve"> 20</text><text x="518.74" y="1140.4" font-size="11.5" font-family="Liberation Sans, sans-serif" fill="#111" xml:space="preserve"> 10</text><text class="cj" x="58.55" y="1141" font-size="12.9" letter-spacing="-0.9">过滤精度</text><text class="cj" x="686.35" y="1092.7" font-size="12.9" letter-spacing="-0.65">其它同相同</text><text class="cj" x="686.35" y="1117.2" font-size="12.9" letter-spacing="-0.65">尺寸比例阀</text>
</svg>
</body></html>
